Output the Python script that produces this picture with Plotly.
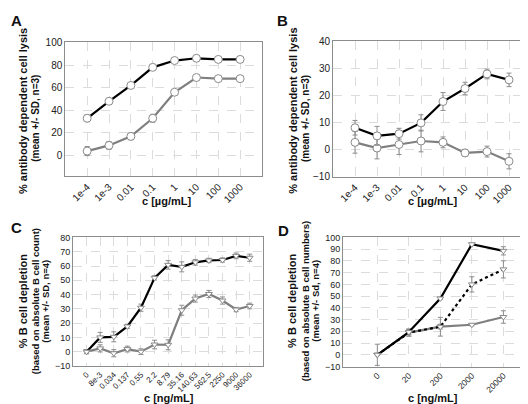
import plotly.graph_objects as go

W, H = 528, 404

# ---------------- data ----------------
a_cats = ["1e-4", "1e-3", "0.01", "0.1", "1", "10", "100", "1000"]
a_black = [33, 48, 62, 78, 84, 86, 85, 85]
a_black_sd = [3, 1, 2, 1, 1, 1, 1, 1]
a_gray = [4, 9, 17, 33, 56, 69, 68, 68]
a_gray_sd = [4, 3.5, 3, 3.5, 1, 1, 1, 2]

b_cats = ["1e-4", "1e-3", "0.01", "0.1", "1", "10", "100", "1000"]
b_black = [8.1, 5.1, 5.9, 9.9, 17.8, 22.6, 28.0, 25.8]
b_black_sd = [2.7, 3.5, 2.0, 3.0, 3.3, 2.3, 1.8, 2.5]
b_gray = [2.7, 0.6, 1.9, 3.2, 2.7, -1.2, -0.7, -4.3]
b_gray_sd = [4.0, 4.0, 3.7, 4.0, 2.0, 1.3, 2.0, 2.8]

c_cats = ["0", "8e-3", "0.034", "0.137", "0.55", "2.2", "8.79", "35.16",
          "140.63", "562.5", "2250", "9000", "36000"]
c_black = [0, 10, 10.4, 17.7, 30.8, 51.7, 60.8, 59.4, 62.6, 63.9, 64.2, 67.1, 65.8]
c_black_sd = [1, 3.5, 3.5, 1.5, 2.5, 1.5, 3, 3.5, 2, 1.5, 1.5, 2, 2.5]
c_gray = [0, 2.3, -1.1, 1.8, 0, 5, 4.8, 29, 37.2, 40.4, 35.8, 29.5, 32]
c_gray_sd = [1.5, 2.5, 2.5, 2, 2, 3, 3.5, 3.5, 2.5, 2.5, 2.5, 1.5, 2]

d_cats = ["0", "20", "200", "2000", "20000"]
d_black = [0, 19.4, 48, 94.2, 88.6]
d_black_sd = [0, 2, 1, 1, 3.5]
d_dot = [0, 18.9, 23.9, 60, 72.8]
d_dot_sd = [9, 3, 8, 6.5, 7.3]
d_gray = [0, 18.9, 24, 25.6, 32.2]
d_gray_sd = [0, 3, 2, 1, 5.3]

# ---------------- style ----------------
FONT = "Liberation Sans, Arial, sans-serif"
BLACK = "#000000"
GRAY = "#7f7f7f"
ERR = "#8c8c8c"
GRID = "#dcdcdc"
BORDER = "#8c8c8c"

fig = go.Figure()


def add_series(xref, yref, cats, vals, sd, color, dash, symbol, msize):
    fig.add_trace(go.Scatter(
        x=cats, y=vals, xaxis=xref, yaxis=yref, mode="lines+markers",
        line=dict(color=color, width=2.2, dash=dash),
        marker=dict(symbol=symbol, size=msize, color="white",
                    line=dict(color="#8a8a8a", width=1)),
        error_y=dict(type="data", array=sd, visible=True, color=ERR,
                     thickness=1, width=2.5),
        showlegend=False, hoverinfo="skip"))


add_series("x", "y", a_cats, a_gray, a_gray_sd, GRAY, "solid", "circle", 8)
add_series("x", "y", a_cats, a_black, a_black_sd, BLACK, "solid", "circle", 8)
add_series("x2", "y2", b_cats, b_gray, b_gray_sd, GRAY, "solid", "circle", 8)
add_series("x2", "y2", b_cats, b_black, b_black_sd, BLACK, "solid", "circle", 8)
add_series("x3", "y3", c_cats, c_gray, c_gray_sd, GRAY, "solid", "triangle-down", 6)
add_series("x3", "y3", c_cats, c_black, c_black_sd, BLACK, "solid", "triangle-down", 6)
add_series("x4", "y4", d_cats, d_gray, d_gray_sd, GRAY, "solid", "triangle-down", 6)
add_series("x4", "y4", d_cats, d_dot, d_dot_sd, BLACK, "dot", "triangle-down", 6)
add_series("x4", "y4", d_cats, d_black, d_black_sd, BLACK, "solid", "triangle-down", 6)


def px_x(a, b):
    return [a / W, b / W]


def px_y(top, bottom):
    return [1 - bottom / H, 1 - top / H]


def xax(dom, rng, anchor, fs):
    return dict(domain=dom, range=rng, type="category", anchor=anchor,
                showline=True, mirror=True, linecolor=BORDER, linewidth=1,
                showgrid=True, gridcolor=GRID, griddash="dash", gridwidth=1,
                zeroline=False, ticks="", tickangle=-45,
                tickfont=dict(family=FONT, size=fs, color="#222"))


def yax(dom, rng, dtick, anchor, fs):
    return dict(domain=dom, range=rng, anchor=anchor, dtick=dtick, tick0=0,
                showline=True, mirror=True, linecolor=BORDER, linewidth=1,
                showgrid=True, gridcolor=GRID, griddash="dash", gridwidth=1,
                zeroline=False, ticks="",
                tickfont=dict(family=FONT, size=fs, color="#222"))


fig.update_layout(
    width=W, height=H, margin=dict(l=0, r=0, t=0, b=0),
    paper_bgcolor="white", plot_bgcolor="white",
    xaxis=xax(px_x(57.3, 254), [-1, 8], "y", 10),
    yaxis=yax(px_y(29.3, 167.3), [-18.3, 100], 20, "x", 10),
    xaxis2=xax(px_x(325, 523), [-1, 8], "y2", 10),
    yaxis2=yax(px_y(28.3, 167.7), [-10, 40], 10, "x2", 10),
    xaxis3=xax(px_x(65, 255.3), [-1, 13], "y3", 8),
    yaxis3=yax(px_y(230.3, 362.7), [-10, 80], 10, "x3", 9),
    xaxis4=xax(px_x(335, 525), [-1.09, 4.94], "y4", 8.5),
    yaxis4=yax(px_y(230.3, 363.3), [-10, 100], 10, "x4", 9),
)


def ann(text, x, y, size, angle=0, bold=True):
    fig.add_annotation(
        text=("<b>%s</b>" % text) if bold else text,
        x=x / W, y=1 - y / H, xref="paper", yref="paper",
        xanchor="center", yanchor="middle", textangle=angle, showarrow=False,
        font=dict(family=FONT, size=size, color="#111"))


# panel letters
ann("A", 8, 7, 15)
ann("B", 274, 7, 15)
ann("C", 8, 220, 15)
ann("D", 275, 223, 15)

# y titles
ann("% antibody dependent cell lysis", 15, 100, 11, -90)
ann("(mean +/- SD, n=3)", 28, 108, 10, -90)
ann("% antibody dependent cell lysis", 284.7, 100, 11, -90)
ann("(mean +/- SD, n=3)", 297.3, 108, 10, -90)
ann("% B cell depletion", 15, 296, 11, -90)
ann("(based on absolute B cell count)", 27, 296, 9.5, -90)
ann("(mean +/- SD, n=4)", 37.5, 296, 9.5, -90)
ann("% B cell depletion", 284.7, 296, 11, -90)
ann("(based on absolute B cell numbers)", 297, 296, 9.5, -90)
ann("(mean +/- Sd, n=4)", 307.5, 296, 9.5, -90)

# x titles
ann("c [µg/mL]", 158, 193, 11)
ann("c [µg/mL]", 424, 193, 11)
ann("c [ng/mL]", 161, 396, 11)
ann("c [ng/mL]", 425, 396, 11)

fig.write_html("out.html")
